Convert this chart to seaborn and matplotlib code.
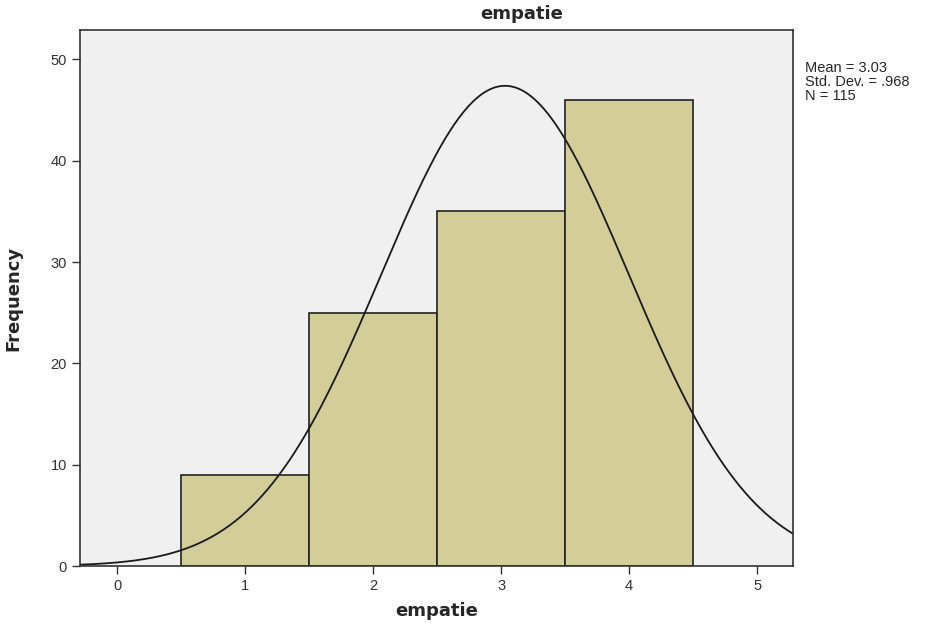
import numpy as np
import pandas as pd
import matplotlib
matplotlib.use("Agg")
import matplotlib.pyplot as plt
import seaborn as sns

# histogram data
bin_centers = [1, 2, 3, 4]
frequencies = [9, 25, 35, 46]
bin_edges = [0.5, 1.5, 2.5, 3.5, 4.5]

mean_value = 3.03
std_value = 0.968
n_value = 115

x_ticks = [0, 1, 2, 3, 4, 5]
y_ticks = [0, 10, 20, 30, 40, 50]

sns.set_style("white")
plt.rcParams["font.family"] = ["Liberation Sans", "DejaVu Sans"]

fig = plt.figure(figsize=(9.51, 6.28), dpi=100)
ax = fig.add_axes([0.0841, 0.0987, 0.7498, 0.8535])
ax.set_facecolor("#f0f0f0")

hist_df = pd.DataFrame({"empatie": bin_centers, "count": frequencies})
sns.histplot(data=hist_df, x="empatie", weights="count", bins=bin_edges,
             color="#d3ce97", edgecolor="#222222", linewidth=1.2, alpha=1, ax=ax)

# normal curve scaled to counts (bin width 1)
curve_x = np.linspace(-0.3, 5.3, 400)
curve_y = n_value * 1.0 / (std_value * np.sqrt(2 * np.pi)) * np.exp(-0.5 * ((curve_x - mean_value) / std_value) ** 2)
sns.lineplot(x=curve_x, y=curve_y, color="#1a1a1a", linewidth=1.3, ax=ax)

ax.set_xlim(-0.29, 5.28)
ax.set_ylim(0, 52.9)
ax.set_xticks(x_ticks)
ax.set_yticks(y_ticks)
ax.tick_params(axis="both", direction="out", length=6, width=1, color="#333333",
               labelsize=10.5, labelcolor="#333333", bottom=True, left=True)
for side in ax.spines.values():
    side.set_color("#333333")
    side.set_linewidth(1.2)

bold_font = {"family": "DejaVu Sans", "size": 13, "weight": "bold"}
ax.set_xlabel("empatie", fontdict=bold_font, labelpad=6)
ax.set_ylabel("Frequency", fontdict=bold_font, labelpad=20)

fig.text(0.549, 0.978, "empatie", ha="center", va="center", fontdict=bold_font)
fig.text(0.847, 0.903, "Mean = 3.03\nStd. Dev. = .968\nN = 115",
         ha="left", va="top", fontsize=10.5, linespacing=1.0)

fig.savefig("out.png", dpi=100)
